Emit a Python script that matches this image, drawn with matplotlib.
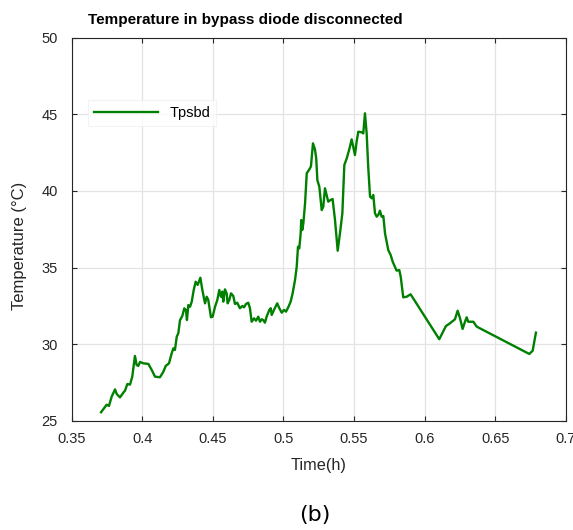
import numpy as np
from matplotlib import pyplot as plt

# Data
time_h = [0.3709, 0.3749, 0.3765, 0.3784, 0.3808, 0.3820, 0.3843, 0.3867, 0.3879, 0.3895,
          0.3914, 0.3930, 0.3949, 0.3961, 0.3973, 0.3985, 0.4008, 0.4044, 0.4068, 0.4091,
          0.4126, 0.4150, 0.4167, 0.4190, 0.4209, 0.4221, 0.4232, 0.4245, 0.4256, 0.4268,
          0.4284, 0.4298, 0.4310, 0.4317, 0.4327, 0.4339, 0.4351, 0.4365, 0.4379, 0.4393,
          0.4412, 0.4426, 0.4445, 0.4457, 0.4468, 0.4487, 0.4499, 0.4516, 0.4532, 0.4546,
          0.4558, 0.4567, 0.4574, 0.4586, 0.4598, 0.4605, 0.4617, 0.4629, 0.4645, 0.4657,
          0.4673, 0.4692, 0.4709, 0.4721, 0.4735, 0.4751, 0.4763, 0.4775, 0.4792, 0.4806,
          0.4822, 0.4834, 0.4846, 0.4857, 0.4869, 0.4881, 0.4900, 0.4910, 0.4917, 0.4933,
          0.4956, 0.4971, 0.4988, 0.5004, 0.5018, 0.5034, 0.5051, 0.5065, 0.5082, 0.5094,
          0.5103, 0.5112, 0.5122, 0.5126, 0.5133, 0.5141, 0.5153, 0.5165, 0.5188, 0.5195,
          0.5209, 0.5223, 0.5232, 0.5240, 0.5254, 0.5271, 0.5282, 0.5294, 0.5306, 0.5317,
          0.5334, 0.5348, 0.5365, 0.5384, 0.5400, 0.5417, 0.5431, 0.5448, 0.5466, 0.5483,
          0.5494, 0.5506, 0.5518, 0.5530, 0.5554, 0.5565, 0.5577, 0.5589, 0.5600, 0.5613,
          0.5625, 0.5636, 0.5648, 0.5660, 0.5671, 0.5683, 0.5695, 0.5707, 0.5719, 0.5742,
          0.5759, 0.5773, 0.5789, 0.5801, 0.5820, 0.5830, 0.5848, 0.5872, 0.5900, 0.6103,
          0.6150, 0.6179, 0.6214, 0.6233, 0.6250, 0.6268, 0.6285, 0.6297, 0.6308, 0.6344,
          0.6368, 0.6740, 0.6764, 0.6787]

temp_c = [25.57, 26.06, 25.98, 26.58, 27.06, 26.76, 26.54, 26.85, 26.98, 27.41,
          27.37, 27.89, 29.24, 28.65, 28.59, 28.85, 28.76, 28.72, 28.32, 27.89,
          27.85, 28.21, 28.59, 28.76, 29.41, 29.74, 29.63, 30.50, 30.72, 31.58,
          31.84, 32.34, 32.24, 31.58, 32.56, 32.45, 32.78, 33.54, 34.08, 33.87,
          34.34, 33.54, 32.67, 33.10, 32.89, 31.76, 31.80, 32.45, 32.89, 33.54,
          33.10, 33.43, 32.78, 33.58, 33.32, 32.67, 32.89, 33.32, 33.15, 32.63,
          32.71, 32.35, 32.50, 32.41, 32.63, 32.71, 32.35, 31.47, 31.69, 31.54,
          31.80, 31.47, 31.63, 31.58, 31.41, 31.80, 32.24, 32.35, 31.91, 32.24,
          32.67, 32.35, 32.06, 32.24, 32.13, 32.41, 32.78, 33.32, 34.19, 35.06,
          36.36, 36.25, 37.23, 38.10, 37.45, 37.89, 39.19, 41.15, 41.47, 41.62,
          43.10, 42.71, 42.12, 40.71, 40.27, 38.75, 38.97, 40.17, 39.73, 39.30,
          39.41, 39.47, 38.10, 36.10, 37.23, 38.54, 41.69, 42.12, 42.71, 43.36,
          42.88, 42.34, 43.21, 43.86, 43.82, 43.75, 45.06, 43.75, 41.58, 39.62,
          39.52, 39.73, 38.54, 38.32, 38.43, 38.71, 38.32, 38.36, 37.23, 36.14,
          35.82, 35.39, 35.06, 34.80, 34.84, 34.41, 33.06, 33.10, 33.26, 30.33,
          31.19, 31.37, 31.63, 32.19, 31.69, 31.00, 31.47, 31.76, 31.47, 31.47,
          31.15, 29.37, 29.58, 30.76]

x_ticks = [0.35, 0.4, 0.45, 0.5, 0.55, 0.6, 0.65, 0.7]
x_tick_labels = ['0.35', '0.4', '0.45', '0.5', '0.55', '0.6', '0.65', '0.7']
y_ticks = [25, 30, 35, 40, 45, 50]

plt.rcParams['font.family'] = ['Liberation Sans', 'DejaVu Sans']

fig = plt.figure(figsize=(5.73, 5.30), dpi=100)
ax = fig.add_axes([0.1248, 0.2057, 0.863, 0.7235])

ax.plot(time_h, temp_c, color='#008000', linewidth=1.7, label='Tpsbd')

ax.set_xlim(0.35, 0.7)
ax.set_ylim(25, 50)
ax.set_xticks(x_ticks)
ax.set_xticklabels(x_tick_labels)
ax.set_yticks(y_ticks)

ax.grid(True, color='#e3e3e3', linewidth=0.9)
ax.set_axisbelow(True)
for s in ax.spines.values():
    s.set_color('#262626')
    s.set_linewidth(0.8)
ax.tick_params(direction='in', length=3.6, width=0.8, top=True, right=True,
               colors='#262626', labelsize=10.5, pad=10)
ax.tick_params(axis='x', pad=8)

ax.set_title('Temperature in bypass diode disconnected', fontsize=11, fontweight='bold',
             x=0.033, ha='left', pad=9.7)
ax.set_xlabel('Time(h)', fontsize=11.7, color='#262626')
ax.set_ylabel('Temperature (°C)', fontsize=12, color='#262626')
ax.yaxis.set_label_coords(-0.09, 0.457)
ax.xaxis.set_label_coords(0.5, -0.096)

leg = ax.legend(loc='upper left', bbox_to_anchor=(0.033, 0.837), fontsize=10.5,
                handlelength=4.4, frameon=True, fancybox=False, borderaxespad=0)
leg.get_frame().set_edgecolor('#f0f0f0')
leg.get_frame().set_linewidth(0.8)

fig.text(0.55, 0.028, '(b)', fontsize=16, family='DejaVu Sans', ha='center', va='center')

fig.savefig('out.png', dpi=100)
